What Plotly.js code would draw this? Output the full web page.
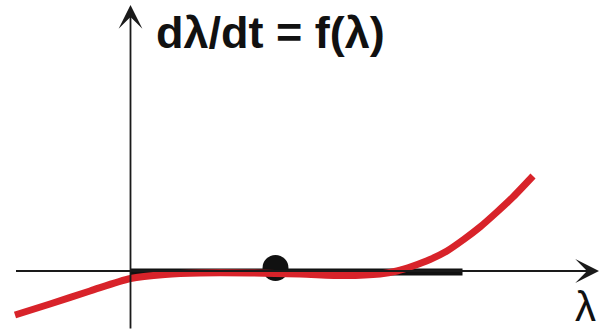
<!DOCTYPE html>
<html>
<head>
<meta charset="utf-8">
<script src="https://cdn.plot.ly/plotly-3.0.1.min.js"></script>
<style>
  html, body { margin: 0; padding: 0; background: #ffffff; }
  #chart { width: 600px; height: 330px; }
</style>
</head>
<body>
<div id="chart"></div>
<script>
// Rate function f(λ) sampled along λ
const lambdaVals = [-1.155, -0.805, -0.405, 0, 0.345, 0.695, 1.195, 1.695, 2.145, 2.495, 2.665, 2.825, 2.995, 3.165, 3.325, 3.495, 3.665, 3.825, 4.025];
const rateVals   = [-0.44, -0.33, -0.20, -0.075, -0.035, -0.02, -0.02, -0.03, -0.045, -0.03, 0.0, 0.05, 0.115, 0.20, 0.31, 0.44, 0.59, 0.74, 0.95];

// Flat stretch where f(λ) ≈ 0, and the fixed point on it
const flatLambda = [0, 3.32];
const flatRate   = [-0.01, -0.01];
const fixedLambda = [1.45];
const fixedRate   = [0.03];

// Axis extents
const xRange = [-1.305, 4.695];
const yRange = [-0.59, 2.71];
const xAxisFrom = -1.16, xAxisTo = 4.685;
const yAxisFrom = -0.59, yAxisTo = 2.66;

const red = '#d8232a';
const ink = '#111111';

const traces = [
  { x: flatLambda, y: flatRate, mode: 'lines', line: { color: ink, width: 7 }, hoverinfo: 'skip' },
  { x: fixedLambda, y: fixedRate, mode: 'markers', marker: { color: ink, size: 26 }, hoverinfo: 'skip' },
  { x: lambdaVals, y: rateVals, mode: 'lines', line: { color: red, width: 7, shape: 'spline', smoothing: 0.8 }, hoverinfo: 'skip' }
];

const arrowCommon = {
  xref: 'x', yref: 'y', axref: 'x', ayref: 'y',
  showarrow: true, arrowhead: 3, arrowsize: 2.2, arrowwidth: 1.8,
  arrowcolor: '#1a1a1a', text: ''
};

const layout = {
  width: 600, height: 330,
  margin: { l: 0, r: 0, t: 0, b: 0 },
  paper_bgcolor: '#ffffff', plot_bgcolor: '#ffffff',
  showlegend: false,
  xaxis: { range: xRange, visible: false, fixedrange: true },
  yaxis: { range: yRange, visible: false, fixedrange: true },
  annotations: [
    Object.assign({ x: xAxisTo, y: 0, ax: xAxisFrom, ay: 0 }, arrowCommon),
    Object.assign({ x: 0, y: yAxisTo, ax: 0, ay: yAxisFrom }, arrowCommon),
    {
      xref: 'paper', yref: 'paper', x: 0.256, y: 0.9,
      xanchor: 'left', yanchor: 'middle', showarrow: false,
      text: '<b>dλ/dt = f(λ)</b>',
      font: { family: 'Liberation Sans, Arial, sans-serif', size: 45, color: ink }
    },
    {
      xref: 'paper', yref: 'paper', x: 0.975, y: 0.07,
      xanchor: 'center', yanchor: 'middle', showarrow: false,
      text: 'λ',
      font: { family: 'Liberation Sans, Arial, sans-serif', size: 42, color: ink }
    }
  ]
};

Plotly.newPlot('chart', traces, layout, { staticPlot: true, displayModeBar: false });
</script>
</body>
</html>
